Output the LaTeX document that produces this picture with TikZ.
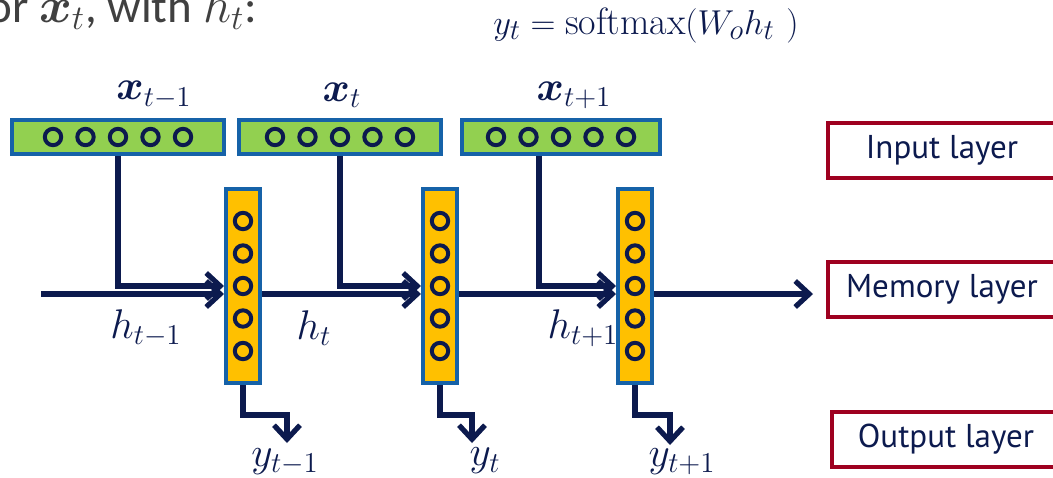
\documentclass[tikz,border=0pt]{standalone}
\usepackage{amsmath}
\usepackage{bm}
\usepackage{fontspec}
\newfontfamily\slidefont{Carlito}
\newfontfamily\layerfont{PT Sans}
\usetikzlibrary{arrows.meta,positioning}

\definecolor{navy}{RGB}{12,26,78}
\definecolor{boxblue}{RGB}{22,98,168}
\definecolor{ingreen}{RGB}{146,208,80}
\definecolor{hidyellow}{RGB}{255,192,0}
\definecolor{darkred}{RGB}{158,0,32}
\definecolor{slidegray}{RGB}{64,64,64}

\tikzset{
  inbox/.style={draw=boxblue, line width=2pt, fill=ingreen, minimum height=17pt, inner sep=0pt},
  hidbox/.style={draw=boxblue, line width=2pt, fill=hidyellow, minimum width=17pt, minimum height=97pt, inner sep=0pt},
  unit/.style={draw=navy, line width=2pt},
  flow/.style={draw=navy, line width=2.6pt, -{Straight Barb[length=7pt,width=13pt]}},
  layerbox/.style={draw=darkred, line width=2pt, minimum width=114pt, minimum height=27.5pt,
    text=navy, font=\layerfont\fontsize{16.5}{18}\selectfont},
  lbl/.style={text=navy, font=\fontsize{19.5}{22}\selectfont, inner sep=0pt}
}

\begin{document}
\begin{tikzpicture}[x=0.5pt, y=-0.5pt]
    % Frame
    \useasboundingbox (0,0) rectangle (1053,477);
    \clip (0,0) rectangle (1053,477);

    % Slide text and equation
    \node[anchor=base west, inner sep=0pt, text=slidegray,
      font=\slidefont\fontsize{23.5}{26}\selectfont] (intro) at (-13,22)
      {or $\bm{x}_t$, with $h_t$:};
    \node[lbl, font=\fontsize{19}{22}\selectfont] (eq) at (646,25)
      {$y_t = \mathrm{softmax}(W_o h_t\ )$};

    % Input vectors
    \node[inbox, minimum width=106pt] (in1) at (118,137) {};
    \node[inbox, minimum width=101pt] (in2) at (340,137) {};
    \node[inbox, minimum width=99pt] (in3) at (561,137) {};
    \foreach \n in {in1,in2,in3}
      \foreach \k in {-2,...,2}
        \draw[unit] ([xshift=\k*16.25pt]\n.center) circle (4.1pt);

    % Memory vectors
    \node[hidbox] (h1) at (243,286) {};
    \node[hidbox] (h2) at (440,286) {};
    \node[hidbox] (h3) at (635,286) {};
    \foreach \n in {h1,h2,h3}
      \foreach \k in {-2,...,2}
        \draw[unit] ([yshift=\k*16.25pt]\n.center) circle (4.1pt);

    % Input labels
    \node[lbl] (xl1) at (154,95) {$\bm{x}_{t-1}$};
    \node[lbl] (xl2) at (342,95) {$\bm{x}_{t}$};
    \node[lbl] (xl3) at (574,95) {$\bm{x}_{t+1}$};

    % Layer names
    \node[layerbox] (inl) at (942,150.5) {Input layer};
    \node[layerbox] (meml) at (942,289) {Memory layer};
    \node[layerbox] (outl) at (946,439) {Output layer};

    % Recurrent line
    \coordinate (start) at (41,294);
    \draw[flow] (start) -- (start -| h1.west);
    \draw[flow] (h1.east |- start) -- (start -| h2.west);
    \draw[flow] (h2.east |- start) -- (start -| h3.west);
    \draw[flow] (h3.east |- start) -- ([xshift=-6.5pt]meml.west |- start);

    % Inputs into memory
    \draw[flow] (in1.south) |- (h1.west);
    \draw[flow] (in2.south) |- (h2.west);
    \draw[flow] ([xshift=-11pt]in3.south) |- (h3.west);

    % Outputs
    \coordinate (o1) at (287,443);
    \coordinate (o2) at (472,443);
    \coordinate (o3) at (670,445);
    \foreach \n in {1,2,3}
      \draw[flow] (h\n.south) -- ++(0,30) -| (o\n);

    % Memory and output labels
    \node[lbl] (hl1) at (146,328) {$h_{t-1}$};
    \node[lbl] (hl2) at (314,328) {$h_{t}$};
    \node[lbl] (hl3) at (583,328) {$h_{t+1}$};
    \node[lbl] (yl1) at (285,462) {$y_{t-1}$};
    \node[lbl] (yl2) at (485,461) {$y_{t}$};
    \node[lbl] (yl3) at (682,462) {$y_{t+1}$};
\end{tikzpicture}
\end{document}
